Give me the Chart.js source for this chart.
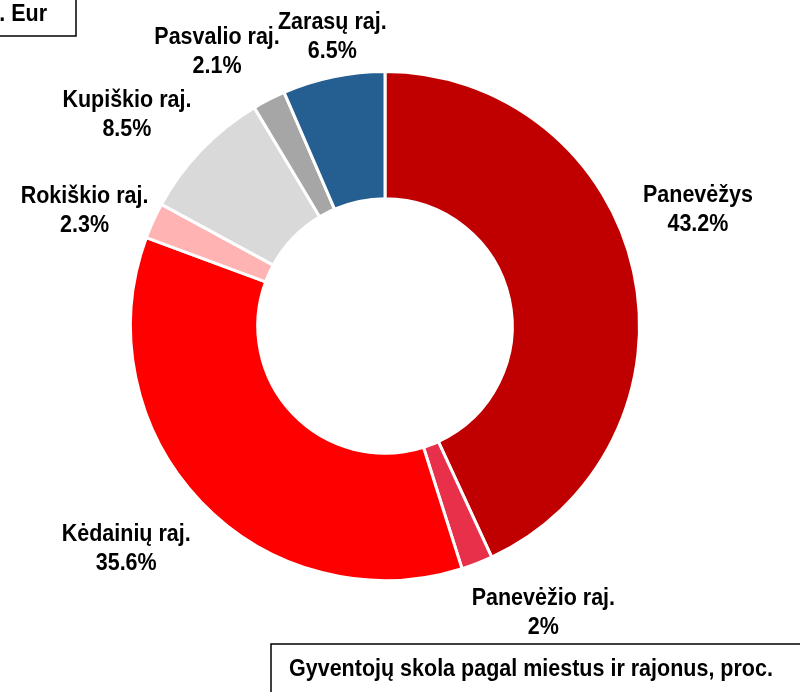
<!DOCTYPE html>
<html>
<head>
<meta charset="utf-8">
<script src="https://cdn.jsdelivr.net/npm/chart.js@4/dist/chart.umd.min.js"></script>
<style>
  html, body { margin: 0; padding: 0; background: #fff; }
  #wrap { width: 800px; height: 692px; position: relative; }
</style>
</head>
<body>
<div id="wrap"><canvas id="debtChart"></canvas></div>
<script>
// --- DATA --- //
const regions = ['Panevėžys', 'Panevėžio raj.', 'Kėdainių raj.', 'Rokiškio raj.', 'Kupiškio raj.', 'Pasvalio raj.', 'Zarasų raj.']
const shares = [43.2, 2, 35.6, 2.3, 8.5, 2.1, 6.5]
const shareLabels = ['43.2%', '2%', '35.6%', '2.3%', '8.5%', '2.1%', '6.5%']
const sliceColors = ['#C00000', '#E8304B', '#FF0000', '#FFB3B3', '#D9D9D9', '#A6A6A6', '#255E91']

// label nudges (px) from the default spot outside each slice
const labelNudge = [[-4, -48], [41, -18], [-24, -3], [-5, 17], [-24, 12], [-20, 13], [13, 27]]

const fontFamily = "'Liberation Sans', Arial, sans-serif"

// text a bit taller than wide, like the original
const drawText = (ctx, text, x, y) => {
  ctx.save()
  ctx.translate(x, y)
  ctx.scale(1, 1.08)
  ctx.fillText(text, 0, 0)
  ctx.restore()
}

// --- OUTSIDE LABELS --- //
const outsideLabels = {
  id: 'outsideLabels',
  afterDatasetsDraw: chart => {
    const ctx = chart.ctx
    const arcs = chart.getDatasetMeta(0).data
    ctx.save()
    ctx.font = `bold 21.5px ${fontFamily}`
    ctx.fillStyle = '#000'
    ctx.textAlign = 'center'
    ctx.textBaseline = 'alphabetic'
    arcs.forEach((arc, i) => {
      const mid = (arc.startAngle + arc.endAngle) / 2
      const r = arc.outerRadius + 70
      const x = arc.x + Math.cos(mid) * r + labelNudge[i][0]
      const y = arc.y + Math.sin(mid) * r + labelNudge[i][1]
      drawText(ctx, regions[i], x, y - 6)
      drawText(ctx, shareLabels[i], x, y + 23)
    })
    ctx.restore()
  }
}

// --- CAPTION BOXES --- //
const captionBoxes = {
  id: 'captionBoxes',
  afterDraw: chart => {
    const ctx = chart.ctx
    ctx.save()
    ctx.strokeStyle = '#000'
    ctx.lineWidth = 1.5
    ctx.strokeRect(-2, -2, 78, 38)
    ctx.strokeRect(271, 644, 540, 60)
    ctx.font = `bold 21.5px ${fontFamily}`
    ctx.fillStyle = '#000'
    ctx.textBaseline = 'alphabetic'
    ctx.textAlign = 'right'
    drawText(ctx, 'mln. Eur', 47, 21)
    ctx.textAlign = 'left'
    drawText(ctx, 'Gyventojų skola pagal miestus ir rajonus, proc.', 289, 676)
    ctx.restore()
  }
}

const debtCanvas = document.getElementById('debtChart')

const configDoughnut = {
  type: 'doughnut',
  data: {
    labels: regions,
    datasets: [
      {
        data: shares,
        backgroundColor: sliceColors,
        borderColor: '#fff',
        borderWidth: 3,
        cutout: '50%'
      }
    ]
  },
  options: {
    responsive: true,
    maintainAspectRatio: false,
    animation: false,
    layout: {
      padding: { top: 70, bottom: 110, left: 129, right: 159 }
    },
    plugins: {
      legend: { display: false },
      tooltip: { enabled: false }
    }
  },
  plugins: [outsideLabels, captionBoxes]
}

const debtChart = new Chart(debtCanvas, configDoughnut)
</script>
</body>
</html>
